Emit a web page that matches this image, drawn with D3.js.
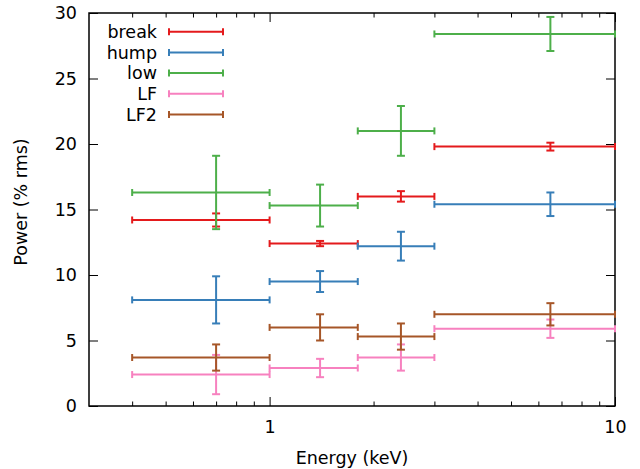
<!DOCTYPE html>
<html lang="en">

<head>
  <meta charset="UTF-8">
  <script type="text/javascript" src="https://d3js.org/d3.v7.min.js"></script>
  <title>Power vs Energy</title>
  <style>
    body { margin: 0; background: white; }
    text { font-family: "DejaVu Sans", sans-serif; }
  </style>
</head>

<body>
  <svg width="640" height="469"></svg>
</body>
<script>
  // energy bins (keV)
  const binLo = [0.4, 1.0, 1.8, 3.0];
  const binHi = [1.0, 1.8, 3.0, 10.0];
  const binMid = [0.7, 1.4, 2.4, 6.5];

  const seriesNames = ["break", "hump", "low", "LF", "LF2"];
  const seriesColors = ["#e41a1c", "#377eb8", "#4daf4a", "#f781bf", "#a65628"];

  // power (% rms) and 1-sigma errors
  const breakVal = [14.2, 12.4, 16.0, 19.8];
  const breakErr = [0.5, 0.2, 0.4, 0.3];
  const humpVal = [8.1, 9.5, 12.2, 15.4];
  const humpErr = [1.8, 0.8, 1.1, 0.9];
  const lowVal = [16.3, 15.3, 21.0, 28.4];
  const lowErr = [2.8, 1.6, 1.9, 1.3];
  const lfVal = [2.4, 2.9, 3.7, 5.9];
  const lfErr = [1.5, 0.7, 1.0, 0.7];
  const lf2Val = [3.7, 6.0, 5.3, 7.0];
  const lf2Err = [1.0, 1.0, 1.0, 0.85];

  const xMajor = [1, 10];
  const xMinor = [0.4, 0.5, 0.6, 0.7, 0.8, 0.9, 2, 3, 4, 5, 6, 7, 8, 9];
  const yTicks = [0, 5, 10, 15, 20, 25, 30];

  const allVals = [breakVal, humpVal, lowVal, lfVal, lf2Val];
  const allErrs = [breakErr, humpErr, lowErr, lfErr, lf2Err];

  const fontSize = "17.5px";

  const svg = d3.select("svg");
  const margin = { left: 89, top: 13, right: 25, bottom: 63 };
  const innerWidth = 640 - margin.left - margin.right;
  const innerHeight = 469 - margin.top - margin.bottom;

  const chart = svg.append("g")
    .attr("transform", "translate(" + margin.left + "," + margin.top + ")");

  const xScale = d3.scaleLog().domain([0.3, 10]).range([0, innerWidth]);
  const yScale = d3.scaleLinear().domain([0, 30]).range([innerHeight, 0]);

  /**
   * axes - ticks point inward, like gnuplot
   */
  const styleAxis = g => {
    g.select(".domain").remove();
    g.selectAll(".tick line").attr("stroke", "#000").attr("stroke-width", 1);
    g.selectAll(".tick text").attr("fill", "#000").style("font-size", fontSize);
  };

  chart.append("g")
    .attr("transform", "translate(0," + innerHeight + ")")
    .call(d3.axisBottom(xScale).tickValues(xMajor).tickFormat(d3.format("d")).tickSizeInner(-9).tickPadding(15))
    .call(styleAxis);
  chart.append("g")
    .attr("transform", "translate(0," + innerHeight + ")")
    .call(d3.axisBottom(xScale).tickValues(xMinor).tickFormat("").tickSizeInner(-4.5))
    .call(styleAxis);
  chart.append("g")
    .call(d3.axisTop(xScale).tickValues(xMajor).tickFormat("").tickSizeInner(-9))
    .call(styleAxis);
  chart.append("g")
    .call(d3.axisTop(xScale).tickValues(xMinor).tickFormat("").tickSizeInner(-4.5))
    .call(styleAxis);

  chart.append("g")
    .call(d3.axisLeft(yScale).tickValues(yTicks).tickSizeInner(-9).tickPadding(12))
    .call(styleAxis);
  chart.append("g")
    .attr("transform", "translate(" + innerWidth + ",0)")
    .call(d3.axisRight(yScale).tickValues(yTicks).tickFormat("").tickSizeInner(-9))
    .call(styleAxis);

  // frame
  chart.append("rect")
    .attr("width", innerWidth)
    .attr("height", innerHeight)
    .attr("fill", "none")
    .attr("stroke", "#000")
    .attr("stroke-width", 1.5);

  /**
   * error bars
   */
  const cap = 3.5;
  seriesNames.forEach((name, si) => {
    const pts = binMid.map((m, i) => ({ lo: binLo[i], hi: binHi[i], mid: m, v: allVals[si][i], e: allErrs[si][i] }));
    const g = chart.append("g")
      .attr("class", "series-" + name)
      .attr("stroke", seriesColors[si])
      .attr("stroke-width", 2)
      .attr("fill", "none");
    const bar = g.selectAll("g").data(pts).join("g");
    // horizontal bar with end caps
    bar.append("line")
      .attr("x1", d => xScale(d.lo)).attr("x2", d => xScale(d.hi))
      .attr("y1", d => yScale(d.v)).attr("y2", d => yScale(d.v));
    bar.append("line")
      .attr("x1", d => xScale(d.lo)).attr("x2", d => xScale(d.lo))
      .attr("y1", d => yScale(d.v) - cap).attr("y2", d => yScale(d.v) + cap);
    bar.append("line")
      .attr("x1", d => xScale(d.hi)).attr("x2", d => xScale(d.hi))
      .attr("y1", d => yScale(d.v) - cap).attr("y2", d => yScale(d.v) + cap);
    // vertical bar with end caps
    bar.append("line")
      .attr("x1", d => xScale(d.mid)).attr("x2", d => xScale(d.mid))
      .attr("y1", d => yScale(d.v - d.e)).attr("y2", d => yScale(d.v + d.e));
    bar.append("line")
      .attr("x1", d => xScale(d.mid) - 4).attr("x2", d => xScale(d.mid) + 4)
      .attr("y1", d => yScale(d.v + d.e)).attr("y2", d => yScale(d.v + d.e));
    bar.append("line")
      .attr("x1", d => xScale(d.mid) - 4).attr("x2", d => xScale(d.mid) + 4)
      .attr("y1", d => yScale(d.v - d.e)).attr("y2", d => yScale(d.v - d.e));
  });

  /**
   * legend
   */
  const legend = chart.append("g");
  seriesNames.forEach((name, si) => {
    const y = 18.7 + si * 20.7;
    legend.append("text")
      .attr("x", 157 - margin.left)
      .attr("y", y)
      .attr("dy", "0.35em")
      .attr("text-anchor", "end")
      .attr("fill", "#000")
      .style("font-size", fontSize)
      .text(name);
    const lg = legend.append("g")
      .attr("stroke", seriesColors[si])
      .attr("stroke-width", 2);
    lg.append("line").attr("x1", 80).attr("x2", 134).attr("y1", y).attr("y2", y);
    lg.append("line").attr("x1", 80).attr("x2", 80).attr("y1", y - cap).attr("y2", y + cap);
    lg.append("line").attr("x1", 134).attr("x2", 134).attr("y1", y - cap).attr("y2", y + cap);
  });

  /**
   * axis titles
   */
  chart.append("text")
    .attr("x", innerWidth / 2)
    .attr("y", innerHeight + 58)
    .attr("text-anchor", "middle")
    .attr("fill", "#000")
    .style("font-size", fontSize)
    .text("Energy (keV)");

  chart.append("text")
    .attr("transform", "translate(" + (27 - margin.left) + "," + (202 - margin.top) + ") rotate(-90)")
    .attr("text-anchor", "middle")
    .attr("fill", "#000")
    .style("font-size", fontSize)
    .text("Power (% rms)");
</script>

</html>
